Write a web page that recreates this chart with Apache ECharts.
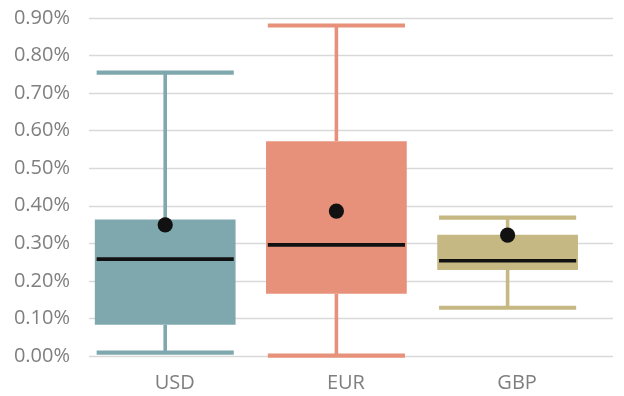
<!DOCTYPE html>
<html>
<head>
<meta charset="utf-8">
<script src="https://cdn.jsdelivr.net/npm/echarts@6/dist/echarts.min.js"></script>
<style>
  html, body { margin: 0; padding: 0; background: #ffffff; }
  #chart { width: 624px; height: 396px; }
</style>
</head>
<body>
<div id="chart"></div>
<script>
// Currency spread distribution (values in percent)
const categories = ['USD', 'EUR', 'GBP'];
const whiskerLow = [0.009, 0.001, 0.1285];
const quartile1 = [0.083, 0.166, 0.229];
const medianVal = [0.258, 0.296, 0.2535];
const quartile3 = [0.3635, 0.572, 0.3226];
const whiskerHigh = [0.7545, 0.880, 0.3684];
const meanVal = [0.349, 0.386, 0.322];
const yTicks = [0, 0.1, 0.2, 0.3, 0.4, 0.5, 0.6, 0.7, 0.8, 0.9];

// Styling
const boxColors = ['#7fa8ae', '#e8917a', '#c5b883'];
const BOX_RATIO = 0.822;
const CAP_INSET = 1.8;
const textColor = '#7f7f7f';
const fontFamily = '"Open Sans", "Noto Sans", sans-serif';

const boxData = categories.map((c, i) => [
  i, whiskerLow[i], quartile1[i], medianVal[i], quartile3[i], whiskerHigh[i], meanVal[i]
]);

function renderBox(params, api) {
  const i = api.value(0);
  const x = api.coord([i, 0])[0];
  const band = api.size([1, 0])[0];
  const half = band * BOX_RATIO / 2;
  const capHalf = half - CAP_INSET;
  const yOf = v => api.coord([i, v])[1];
  const yLow = yOf(api.value(1));
  const yQ1 = yOf(api.value(2));
  const yMed = yOf(api.value(3));
  const yQ3 = yOf(api.value(4));
  const yHigh = yOf(api.value(5));
  const yMean = yOf(api.value(6));
  const color = boxColors[i];
  const line = (x1, y1, x2, y2, w, c) => ({
    type: 'line',
    shape: { x1: x1, y1: y1, x2: x2, y2: y2 },
    style: { stroke: c, lineWidth: w, lineCap: 'butt' }
  });
  return {
    type: 'group',
    children: [
      line(x, yQ3, x, yHigh, 3.6, color),
      line(x, yQ1, x, yLow, 3.6, color),
      line(x - capHalf, yHigh, x + capHalf, yHigh, 4.2, color),
      line(x - capHalf, yLow, x + capHalf, yLow, 4.2, color),
      {
        type: 'rect',
        shape: { x: x - half, y: yQ3, width: half * 2, height: yQ1 - yQ3 },
        style: { fill: color }
      },
      line(x - capHalf, yMed, x + capHalf, yMed, 3.6, '#111111'),
      {
        type: 'circle',
        shape: { cx: x, cy: yMean, r: 7.6 },
        style: { fill: '#111111' }
      }
    ]
  };
}

const chart = echarts.init(document.getElementById('chart'), null, { renderer: 'canvas' });
chart.setOption({
  animation: false,
  backgroundColor: '#ffffff',
  grid: [
    { left: 89, right: 11, top: 18, bottom: 40 },
    { left: 79.6, width: 513.6, top: 18, bottom: 40 }
  ],
  xAxis: [
    { gridIndex: 0, type: 'category', data: categories, show: false },
    {
      gridIndex: 1, type: 'category', data: categories,
      axisLine: { show: false }, axisTick: { show: false }, splitLine: { show: false },
      axisLabel: {
        color: textColor, fontSize: 20, fontFamily: fontFamily,
        margin: 17, padding: [0, 0, 0, 19]
      }
    }
  ],
  yAxis: [
    {
      gridIndex: 0, type: 'value',
      min: yTicks[0], max: yTicks[yTicks.length - 1], interval: yTicks[1] - yTicks[0],
      axisLine: { show: false }, axisTick: { show: false },
      splitLine: { show: true, lineStyle: { color: '#d9d9d9', width: 1.3 } },
      axisLabel: {
        color: textColor, fontSize: 20, fontFamily: fontFamily, margin: 19,
        formatter: v => v.toFixed(2) + '%'
      }
    },
    {
      gridIndex: 1, type: 'value',
      min: yTicks[0], max: yTicks[yTicks.length - 1], interval: yTicks[1] - yTicks[0],
      show: false
    }
  ],
  series: [{
    type: 'custom',
    xAxisIndex: 1,
    yAxisIndex: 1,
    renderItem: renderBox,
    encode: { x: 0, y: [1, 2, 3, 4, 5, 6] },
    data: boxData,
    z: 3
  }]
});
</script>
</body>
</html>
